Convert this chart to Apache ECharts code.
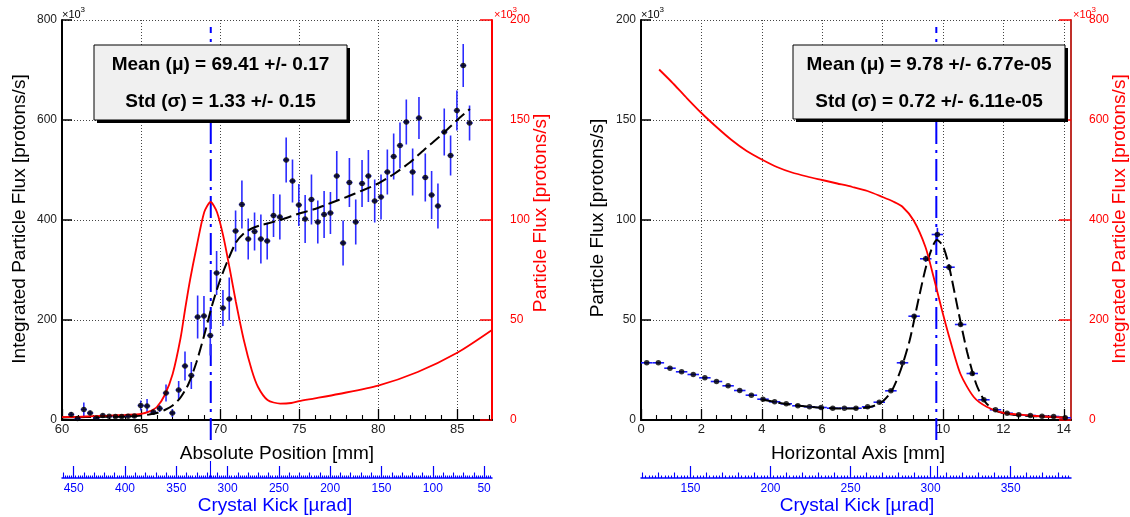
<!DOCTYPE html>
<html><head><meta charset="utf-8">
<script src="https://cdn.jsdelivr.net/npm/echarts@6.0.0/dist/echarts.min.js"></script>
<style>html,body{margin:0;padding:0;background:#fff}#c{width:1130px;height:517px}</style>
</head><body><div id="c"></div>
<script>
const FONT = '"Liberation Sans", Arial, Helvetica, sans-serif';

// ---------- Left panel data ----------
const leftX = [60.58,60.98,61.38,61.78,62.18,62.58,62.98,63.38,63.78,64.18,64.58,64.98,65.38,65.78,66.18,66.58,66.98,67.38,67.78,68.18,68.58,68.98,69.38,69.78,70.18,70.58,70.98,71.38,71.78,72.18,72.58,72.98,73.38,73.78,74.18,74.58,74.98,75.38,75.78,76.18,76.58,76.98,77.38,77.78,78.18,78.58,78.98,79.38,79.78,80.18,80.58,80.98,81.38,81.78,82.18,82.58,82.98,83.38,83.78,84.18,84.58,84.98,85.38,85.78];
const leftY = [11,3,21,14,4,9,7.6,7,7,7.6,8,29,28,16,23,54,14,60,108,89,206,208,169,294,224,242,378,431,362,377,362,358,409,406,520,478,430,402,441,396,411,414,488,354,475,396,473,488,438,446,496,527,549,596,496,604,485,450,428,576,529,619,709,594];
const leftYErr = [5,3,14,5,3,4,3,3,3,3,4,10,14,6,7,17,8,18,29,27,43,40,40,44,36,43,41,48,41,38,49,37,43,45,45,43,42,48,50,43,47,42,50,45,49,45,47,52,43,45,45,46,46,45,47,42,48,48,45,47,40,40,43,35];
const leftXErr = 0.2;
const leftFitX = [60,61,62,63,64,65,65.5,66,66.5,67,67.5,68,68.5,69,69.5,70,70.5,71,71.5,72,72.5,73,74,75,76,77,78,79,80,81,82,83,84,85,85.8];
const leftFitY = [5,5.5,6,6.5,7,9,11,14,20,29,45,72,115,170,230,280,320,355,373,383,389,393,402,413,422,434,446,459,473,492,515,543,570,600,622];
const leftRedX = [60,61,62,63,64,65,65.5,66,66.5,67,67.5,67.8,68.1,68.5,69,69.4,69.8,70.2,70.6,71,71.5,72,72.4,73,73.8,74.5,75,76,77.5,80,82.5,85,87.2];
const leftRedY = [1.4,1.6,1.9,2.2,2.6,3.1,4.2,6.5,12.5,23,41,56,70,86,104,109,104,92,76,59,40,25,16.5,10,8.2,8.5,9.4,10.8,13,17.2,24,33.6,45];
const leftMean = 69.41;
const leftKickMean = [317];
const leftXTicks = [60,65,70,75,80,85];
const leftXMinor = [61,62,63,64,66,67,68,69,71,72,73,74,76,77,78,79,81,82,83,84,86,87];
const leftKickMajor = [50,100,150,200,250,300,350,400,450];
const leftStats = ['Mean (\u03bc) = 69.41 +/- 0.17', 'Std (\u03c3) = 1.33 +/- 0.15'];

// ---------- Right panel data ----------
const rightX = [0.19,0.575,0.96,1.345,1.73,2.115,2.5,2.885,3.27,3.655,4.04,4.425,4.81,5.195,5.58,5.965,6.35,6.735,7.12,7.505,7.89,8.275,8.66,9.045,9.43,9.815,10.2,10.585,10.97,11.355,11.74,12.125,12.51,12.895,13.28,13.665,14.05];
const rightY = [28.6,28.6,25.9,24.1,22.75,21.1,19.25,17.1,14.75,12.4,10.4,9.1,8.1,7.1,6.6,6.25,5.9,5.9,5.9,6.6,8.9,14.6,28.6,51.9,80.6,92.75,76.4,47.75,23.25,10.1,5.1,3.4,2.6,2.25,1.9,1.75,1.1];
const rightYErr = [0.4,0.4,0.4,0.4,0.4,0.4,0.4,0.4,0.4,0.4,0.4,0.4,0.4,0.4,0.4,0.4,0.4,0.4,0.4,0.4,0.5,0.6,0.8,1,1.5,3.3,1.5,1,0.8,0.5,0.4,0.4,0.4,0.4,0.4,0.4,0.4];
const rightXErr = 0.19;
const rightFitX = [4.0,4.5,5.0,5.5,6.0,6.5,7.0,7.5,7.8,8.0,8.3,8.6,8.9,9.2,9.5,9.8,10.0,10.2,10.5,10.8,11.1,11.4,11.7,12.0,12.5,13.0,13.5,14.1];
const rightFitY = [10.3,8.8,7.6,6.7,6.1,5.8,5.7,6.3,7.5,9.2,14.5,25,40,61,80,90,87,77,55,34,18,9,5,3.5,2.4,1.9,1.6,1.3];
const rightRedX = [0.6,1.0,1.5,2.0,2.5,3.0,3.5,4.0,4.5,5.0,5.5,6.0,6.5,7.0,7.5,8.0,8.35,8.65,9.03,9.42,9.69,9.97,10.24,10.58,11.02,11.46,12.01,12.89,14.1];
const rightRedY = [701,677,645,614,586,560,538,521,506,495,487,480,473,466,458,446,437,427,399,346,286,219,159,92,46,26,14,9,4.4];
const rightMean = 9.78;
const rightKickMean = [304.3];
const rightXTicks = [0,2,4,6,8,10,12,14];
const rightXMinor = [0.5,1,1.5,2.5,3,3.5,4.5,5,5.5,6.5,7,7.5,8.5,9,9.5,10.5,11,11.5,12.5,13,13.5];
const rightKickMajor = [150,200,250,300,350];
const rightStats = ['Mean (\u03bc) = 9.78 +/- 6.77e-05', 'Std (\u03c3) = 0.72 +/- 6.11e-05'];

// ---------- helpers ----------
function ticksBetween(a, b, step, skip) {
  const out = [];
  for (let v = a; v <= b + 1e-9; v += step) {
    const r = Math.round(v * 1000) / 1000;
    if (Math.abs(r / skip - Math.round(r / skip)) > 1e-6) out.push(r);
  }
  return out;
}
const pairs = (xs, ys) => xs.map((x, i) => [x, ys[i]]);
const errData = (xs, ys, es, ex) => xs.map((x, i) => [x, ys[i], es[i], ex]);

function errRender(color, width) {
  return function (params, api) {
    const x = api.value(0), y = api.value(1), ey = api.value(2), ex = api.value(3);
    const c = api.coord([x, y]);
    const t = api.coord([x, y + ey]);
    const b = api.coord([x, y - ey]);
    const l = api.coord([x - ex, y]);
    const r = api.coord([x + ex, y]);
    const style = { stroke: color, lineWidth: width };
    return { type: 'group', children: [
      { type: 'line', shape: { x1: c[0], y1: t[1], x2: c[0], y2: b[1] }, style },
      { type: 'line', shape: { x1: l[0], y1: c[1], x2: r[0], y2: c[1] }, style }
    ]};
  };
}

const GRID_DOT = { color: '#444', type: [1, 2], width: 1 };
const BLUE = '#0000ff';
const RED = '#ff0000';

function mainX(grid, min, max, interval, ticks) {
  return { gridIndex: grid, type: 'value', position: 'bottom', min, max, interval,
    axisLine: { onZero: false, lineStyle: { color: '#000', width: 2 } },
    axisTick: { inside: true, length: 11, customValues: ticks, lineStyle: { color: '#000', width: 1.3 } },
    axisLabel: { customValues: ticks, color: '#222', fontSize: 13, fontFamily: FONT, margin: 3 },
    splitLine: { show: true, lineStyle: GRID_DOT } };
}
function tickOnlyX(grid, min, max, values, len, color, offset, inverse) {
  return { gridIndex: grid, type: 'value', position: 'bottom', min, max, offset: offset || 0, inverse: !!inverse,
    axisLine: { show: false, onZero: false },
    axisTick: { inside: true, length: len, customValues: values, lineStyle: { color, width: 1.1 } },
    axisLabel: { show: false }, splitLine: { show: false } };
}
function kickX(grid, min, max, inverse, major) {
  return { gridIndex: grid, type: 'value', position: 'bottom', offset: 58, min, max, inverse,
    axisLine: { onZero: false, lineStyle: { color: BLUE, width: 1.5 } },
    axisTick: { inside: true, length: 12, customValues: major, lineStyle: { color: BLUE, width: 1.2 } },
    axisLabel: { customValues: major, color: BLUE, fontSize: 12, fontFamily: FONT, margin: 5 },
    splitLine: { show: false } };
}
function yAx(grid, pos, min, max, interval, color, lineColor, margin, split) {
  return { gridIndex: grid, type: 'value', position: pos, min, max, interval,
    axisLine: { show: true, onZero: false, lineStyle: { color: lineColor, width: 2 } },
    axisTick: { show: true, inside: true, length: pos === 'left' ? 10 : 12, lineStyle: { color: color, width: 1.5 } },
    axisLabel: { color: color === '#000' ? '#222' : color, fontSize: 12, fontFamily: FONT, margin },
    splitLine: { show: split, lineStyle: GRID_DOT } };
}
const hidden = (grid, min, max) => ({ gridIndex: grid, type: 'value', min, max, show: false });

const LK = { min: 42.3, max: 461.4 };
const RK = { min: 119.1, max: 387.7 };
const LX = { min: 60, max: 87.2 };
const RX = { min: 0, max: 14.24 };

const xAxis = [
  mainX(0, LX.min, LX.max, 5, leftXTicks),                                        // 0
  tickOnlyX(0, LX.min, LX.max, leftXMinor, 5, '#000', 0, false),                  // 1
  kickX(0, LK.min, LK.max, true, leftKickMajor),                                  // 2
  tickOnlyX(0, LK.min, LK.max, ticksBetween(50, 460, 10, 50), 5.5, BLUE, 58, true), // 3
  tickOnlyX(0, LK.min, LK.max, ticksBetween(44, 460, 2, 10), 2.5, BLUE, 58, true),  // 4
  tickOnlyX(0, LK.min, LK.max, leftKickMean, 17, BLUE, 58, true),                 // 5
  hidden(1, LX.min, LX.max),                                                      // 6
  mainX(2, RX.min, RX.max, 2, rightXTicks),                                       // 7
  tickOnlyX(2, RX.min, RX.max, rightXMinor, 5, '#000', 0, false),                 // 8
  kickX(2, RK.min, RK.max, false, rightKickMajor),                                // 9
  tickOnlyX(2, RK.min, RK.max, ticksBetween(120, 380, 10, 50), 5.5, BLUE, 58, false), // 10
  tickOnlyX(2, RK.min, RK.max, ticksBetween(120, 386, 2, 10), 2.5, BLUE, 58, false),  // 11
  tickOnlyX(2, RK.min, RK.max, rightKickMean, 12, BLUE, 58, false),               // 12
  hidden(3, RX.min, RX.max)                                                       // 13
];
const yAxis = [
  yAx(0, 'left', 0, 800, 200, '#000', '#000', 5, true),       // 0
  yAx(0, 'right', 0, 200, 50, RED, RED, 18, false),           // 1
  hidden(1, 0, 1),                                            // 2
  yAx(2, 'left', 0, 200, 50, '#000', '#000', 5, true),        // 3
  yAx(2, 'right', 0, 800, 200, RED, '#c0302a', 18, false),    // 4
  hidden(3, 0, 1)                                             // 5
];

function panelSeries(xi, yi, yri, hxi, hyi, xs, ys, es, ex, fx, fy, rx, ry, mean, errColor) {
  return [
    { type: 'custom', xAxisIndex: xi, yAxisIndex: yi, renderItem: errRender(errColor, 1.6),
      data: errData(xs, ys, es, ex), encode: { x: 0, y: 1 }, z: 4, silent: true },
    { type: 'line', xAxisIndex: xi, yAxisIndex: yi, data: pairs(fx, fy), symbol: 'none', smooth: 0.25,
      lineStyle: { color: '#000', width: 2, type: [12, 5] }, z: 5, silent: true },
    { type: 'line', xAxisIndex: xi, yAxisIndex: yri, data: pairs(rx, ry), symbol: 'none', smooth: 0.25,
      lineStyle: { color: RED, width: 1.8 }, z: 5, silent: true },
    { type: 'scatter', xAxisIndex: xi, yAxisIndex: yi, data: pairs(xs, ys), symbol: 'circle', symbolSize: 5.5,
      itemStyle: { color: '#000' }, z: 6, silent: true },
    { type: 'line', xAxisIndex: hxi, yAxisIndex: hyi, data: [[mean, 0], [mean, 1]], symbol: 'none',
      lineStyle: { color: BLUE, width: 2, type: [22, 6, 3, 6] }, z: 3, silent: true }
  ];
}

function txt(x, y, text, size, color, opts) {
  opts = opts || {};
  return { type: 'text', x, y, rotation: opts.rot || 0, z: opts.z || 20, silent: true,
    style: { text, fill: color, font: (opts.bold ? 'bold ' : '') + size + 'px ' + FONT,
      align: opts.align || 'center', textAlign: opts.align || 'center',
      verticalAlign: 'middle', textVerticalAlign: 'middle' } };
}
function statBox(x, y, w, h, lines) {
  const cx = x + w / 2;
  return [
    { type: 'rect', z: 18, silent: true, shape: { x: x + 3, y: y + 3, width: w, height: h }, style: { fill: '#000' } },
    { type: 'rect', z: 19, silent: true, shape: { x, y, width: w, height: h }, style: { fill: '#f0f0f0', stroke: '#000', lineWidth: 1 } },
    txt(cx, y + 19.5, lines[0], 19, '#000', { bold: true }),
    txt(cx, y + 57, lines[1], 19, '#000', { bold: true })
  ];
}
function times10(x, color) {
  return [
    txt(x, 15, '\u00d710', 11, color, { align: 'left' }),
    txt(x + 18.5, 10, '3', 8, color, { align: 'left' })
  ];
}
const R90 = Math.PI / 2;
const graphic = [].concat(
  statBox(94, 45, 253, 75, leftStats),
  statBox(793, 45, 272, 74, rightStats),
  [
    txt(20, 219, 'Integrated Particle Flux [protons/s]', 19, '#000', { rot: R90 }),
    txt(541, 213, 'Particle Flux [protons/s]', 19, RED, { rot: R90 }),
    txt(598, 218, 'Particle Flux [protons/s]', 19, '#000', { rot: R90 }),
    txt(1120, 219, 'Integrated Particle Flux [protons/s]', 19, RED, { rot: R90 }),
    txt(277, 454, 'Absolute Position [mm]', 19, '#000'),
    txt(858, 454, 'Horizontal Axis [mm]', 19, '#000'),
    txt(275, 506, 'Crystal Kick [\u00b5rad]', 19, BLUE),
    txt(857, 506, 'Crystal Kick [\u00b5rad]', 19, BLUE)
  ],
  times10(62, '#000'), times10(494, RED), times10(641, '#000'), times10(1073, RED)
);

const option = {
  animation: false,
  backgroundColor: '#fff',
  textStyle: { fontFamily: FONT },
  grid: [
    { left: 62, top: 20, width: 430, height: 400 },
    { left: 62, top: 27, width: 430, height: 413 },
    { left: 641, top: 20, width: 430, height: 400 },
    { left: 641, top: 27, width: 430, height: 413 }
  ],
  xAxis, yAxis,
  series: [].concat(
    panelSeries(0, 0, 1, 6, 2, leftX, leftY, leftYErr, leftXErr, leftFitX, leftFitY, leftRedX, leftRedY, leftMean, '#2b2bff'),
    panelSeries(7, 3, 4, 13, 5, rightX, rightY, rightYErr, rightXErr, rightFitX, rightFitY, rightRedX, rightRedY, rightMean, '#1a1aff')
  ),
  graphic: { elements: graphic }
};
const chart = echarts.init(document.getElementById('c'), null, { renderer: 'canvas' });
chart.setOption(option);
</script>
</body></html>
